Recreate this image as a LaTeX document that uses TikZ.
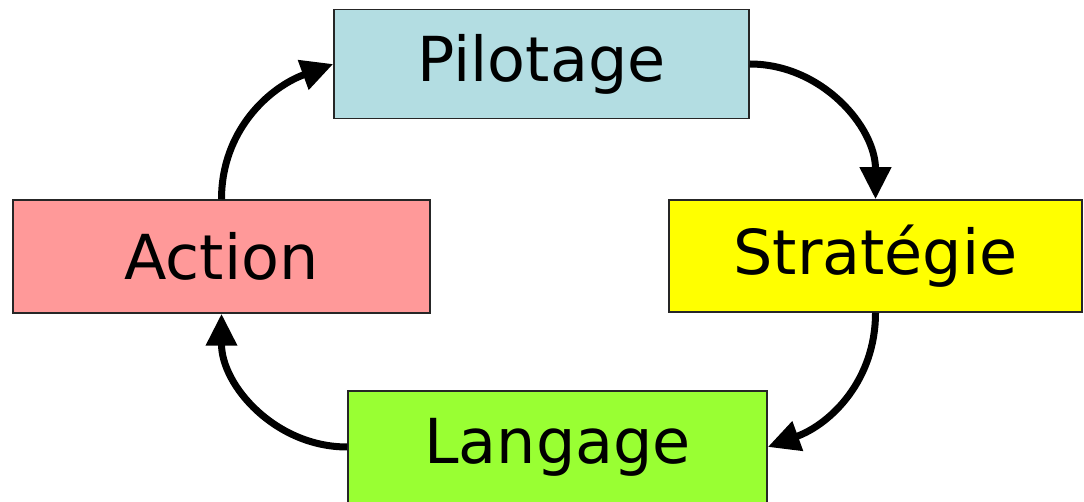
\documentclass[tikz,border=0pt]{standalone}
\usepackage{fontspec}
\setmainfont{DejaVu Sans}
\usetikzlibrary{arrows.meta}
\definecolor{pilotcol}{HTML}{B3DDE2}
\definecolor{actioncol}{HTML}{FF9999}
\definecolor{stratcol}{HTML}{FFFF00}
\definecolor{langcol}{HTML}{99FF33}
\tikzset{
  stagebox/.style={draw=black!85, line width=1.5pt, inner sep=0pt,
    font=\fontsize{62}{70}\selectfont, text=black},
  cyclearrow/.style={line width=7pt, -{Triangle[length=32pt,width=30pt]}}
}
\begin{document}
\begin{tikzpicture}[x=1pt,y=-1pt]
  \useasboundingbox (0,0) rectangle (1084,502);
  \node[stagebox, fill=pilotcol, minimum width=415pt, minimum height=109pt] (pil) at (541.5,64) {Pilotage};
  \node[stagebox, fill=actioncol, minimum width=417pt, minimum height=113pt] (act) at (221.5,256.5) {Action};
  \node[stagebox, fill=stratcol, minimum width=413pt, minimum height=112pt] (str) at (875.5,256) {Stratégie};
  \node[stagebox, fill=langcol, minimum width=419pt, minimum height=112pt] (lan) at (557.5,447) {Langage};
  % the four steps of the cycle
  \draw[cyclearrow] (act.north) to[out=90,in=200] (pil.west);
  \draw[cyclearrow] (pil.east) to[out=0,in=90] (str.north);
  \draw[cyclearrow] (str.south) to[out=-90,in=20] (lan.east);
  \draw[cyclearrow] (lan.west) to[out=180,in=-90] (act.south);
\end{tikzpicture}
\end{document}
